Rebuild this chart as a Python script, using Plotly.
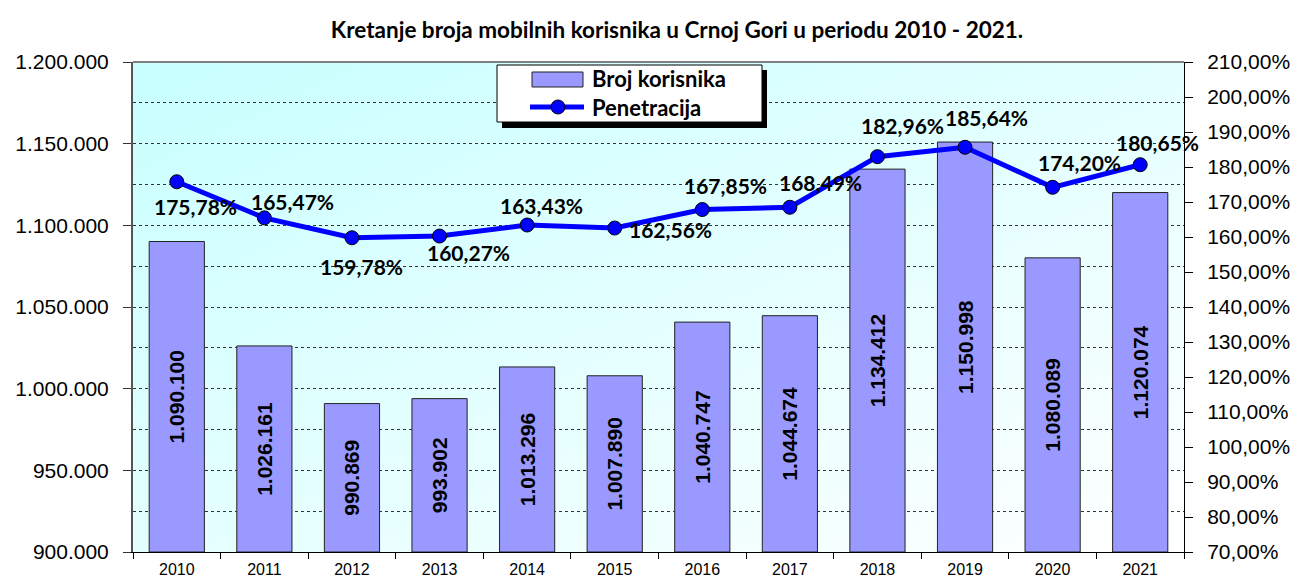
import base64
import plotly.graph_objects as go

years = ["2010", "2011", "2012", "2013", "2014", "2015", "2016", "2017", "2018", "2019", "2020", "2021"]
korisnici = [1090100, 1026161, 990869, 993902, 1013296, 1007890, 1040747, 1044674, 1134412, 1150998, 1080089, 1120074]
penetracija = [175.78, 165.47, 159.78, 160.27, 163.43, 162.56, 167.85, 168.49, 182.96, 185.64, 174.20, 180.65]

title_text = "Kretanje broja mobilnih korisnika u Crnoj Gori u periodu 2010 - 2021."
legend_names = ["Broj korisnika", "Penetracija"]

Y_MIN, Y_MAX = 900000, 1200000

# pixel offsets of the percentage labels relative to their points (x right, y up)
pen_label_shift = [(19, -25), (28, 16), (10, -29), (29, -16), (14, 20), (56, -1),
                   (23, 24), (31, 25), (25, 31), (21, 30), (27, 25), (17, 22)]

BAR_COLOR = "#9999ff"
LINE_COLOR = "#0000ff"

def fmt_int(v):
    return f"{v:,}".replace(",", ".")

def fmt_pct(v):
    return f"{v:.2f}".replace(".", ",") + "%"

W, H = 1293, 579
L, R, T, B = 133, 109, 62, 27
PW, PH = W - L - R, H - T - B

def px(xp):  # pixel -> paper x
    return (xp - L) / PW

def py(yp):  # pixel -> paper y
    return (H - B - yp) / PH

fig = go.Figure()
# bars start at the axis minimum (as in the original chart) so the value labels centre in the visible bar
fig.add_trace(go.Bar(
    x=years, y=[v - Y_MIN for v in korisnici], base=Y_MIN, name=legend_names[0],
    marker=dict(color=BAR_COLOR, line=dict(color="#222222", width=1)),
    width=0.63,
    text=[fmt_int(v) for v in korisnici],
    textposition="inside", insidetextanchor="middle", textangle=-90,
    textfont=dict(family="Liberation Sans", size=21, color="black", weight="bold"),
    hovertext=[fmt_int(v) for v in korisnici], hoverinfo="text",
))
fig.add_trace(go.Scatter(
    x=years, y=penetracija, name=legend_names[1], yaxis="y2",
    mode="lines+markers",
    line=dict(color=LINE_COLOR, width=5),
    marker=dict(size=14, color=LINE_COLOR, line=dict(color="black", width=1)),
))

for i, (v, (dx, dy)) in enumerate(zip(penetracija, pen_label_shift)):
    fig.add_annotation(x=i, y=v, xref="x", yref="y2", text=fmt_pct(v),
                       showarrow=False, xshift=dx, yshift=dy,
                       font=dict(family="Lato", size=21, color="black", weight="bold"))

# legend drawn by hand (box with shadow, wide bar swatch, line+marker swatch)
leg_font = dict(family="Lato", size=22, color="black", weight="bold")
fig.add_annotation(x=px(590), y=py(79), xref="paper", yref="paper", text=legend_names[0],
                   showarrow=False, xanchor="left", yanchor="middle", font=leg_font)
fig.add_annotation(x=px(590), y=py(107), xref="paper", yref="paper", text=legend_names[1],
                   showarrow=False, xanchor="left", yanchor="middle", font=leg_font)

svg = ('<svg xmlns="http://www.w3.org/2000/svg" width="100" height="100" viewBox="0 0 100 100" '
       'preserveAspectRatio="none"><defs><linearGradient id="g" x1="0" y1="0" x2="1" y2="1">'
       '<stop offset="0" stop-color="#c8ffff"/><stop offset="1" stop-color="#ffffff"/>'
       '</linearGradient></defs><rect width="100" height="100" fill="url(#g)"/></svg>')
src = "data:image/svg+xml;base64," + base64.b64encode(svg.encode()).decode()

shapes = [
    dict(type="line", xref="paper", yref="paper", x0=0, x1=1, y0=1, y1=1,
         line=dict(color="#808080", width=2), layer="above"),
    dict(type="rect", xref="paper", yref="paper", x0=px(502), x1=px(767), y0=py(128), y1=py(70),
         fillcolor="black", line=dict(width=0), layer="above"),
    dict(type="rect", xref="paper", yref="paper", x0=px(497), x1=px(762), y0=py(122), y1=py(65),
         fillcolor="white", line=dict(color="black", width=1), layer="above"),
    dict(type="rect", xref="paper", yref="paper", x0=px(532), x1=px(583), y0=py(87), y1=py(72),
         fillcolor=BAR_COLOR, line=dict(color="#222222", width=1), layer="above"),
    dict(type="line", xref="paper", yref="paper", x0=px(530), x1=px(584), y0=py(107), y1=py(107),
         line=dict(color=LINE_COLOR, width=5), layer="above"),
    dict(type="circle", xref="paper", yref="paper", x0=px(551), x1=px(565), y0=py(114), y1=py(100),
         fillcolor=LINE_COLOR, line=dict(color="black", width=1), layer="above"),
]

fig.update_layout(
    width=W, height=H,
    margin=dict(l=L, r=R, t=T, b=B, autoexpand=False),
    paper_bgcolor="white", plot_bgcolor="rgba(0,0,0,0)",
    separators=",.",
    showlegend=False,
    title=dict(text=title_text, x=677 / W, xanchor="center", y=1 - 30 / H, yanchor="middle",
               font=dict(family="Lato", size=22.5, color="black", weight="bold")),
    images=[dict(source=src, xref="paper", yref="paper", x=0, y=1, sizex=1, sizey=1,
                 xanchor="left", yanchor="top", sizing="stretch", layer="below")],
    xaxis=dict(
        type="category", range=[-0.5, len(years) - 0.5], autorange=False,
        showline=True, linecolor="black", linewidth=1,
        ticks="outside", tickson="boundaries", ticklen=6, tickcolor="black",
        tickfont=dict(family="Liberation Sans", size=16, color="black"),
        ticklabelstandoff=3,
        showgrid=False, automargin=False,
    ),
    yaxis=dict(
        range=[Y_MIN, Y_MAX], autorange=False, dtick=50000, tickformat=",d",
        showline=True, linecolor="#555555", linewidth=2,
        ticks="outside", ticklen=8, tickcolor="#333333",
        tickfont=dict(family="Liberation Sans", size=21, color="black"),
        ticklabelstandoff=10,
        showgrid=True, gridcolor="#333333", gridwidth=1, griddash="dot",
        minor=dict(dtick=25000, showgrid=True, gridcolor="#333333", gridwidth=1, griddash="dot", ticks=""),
        zeroline=False, automargin=False,
    ),
    yaxis2=dict(
        overlaying="y", side="right", range=[70, 210], autorange=False, dtick=10,
        tickformat=".2f", ticksuffix="%",
        showline=True, linecolor="black", linewidth=1,
        ticks="outside", ticklen=8, tickcolor="black",
        tickfont=dict(family="Liberation Sans", size=21, color="black"),
        ticklabelstandoff=10,
        showgrid=False, zeroline=False, automargin=False,
    ),
    shapes=shapes,
)

fig.write_html("out.html", config={"displayModeBar": False},
               post_script="document.body.style.margin='0';")
